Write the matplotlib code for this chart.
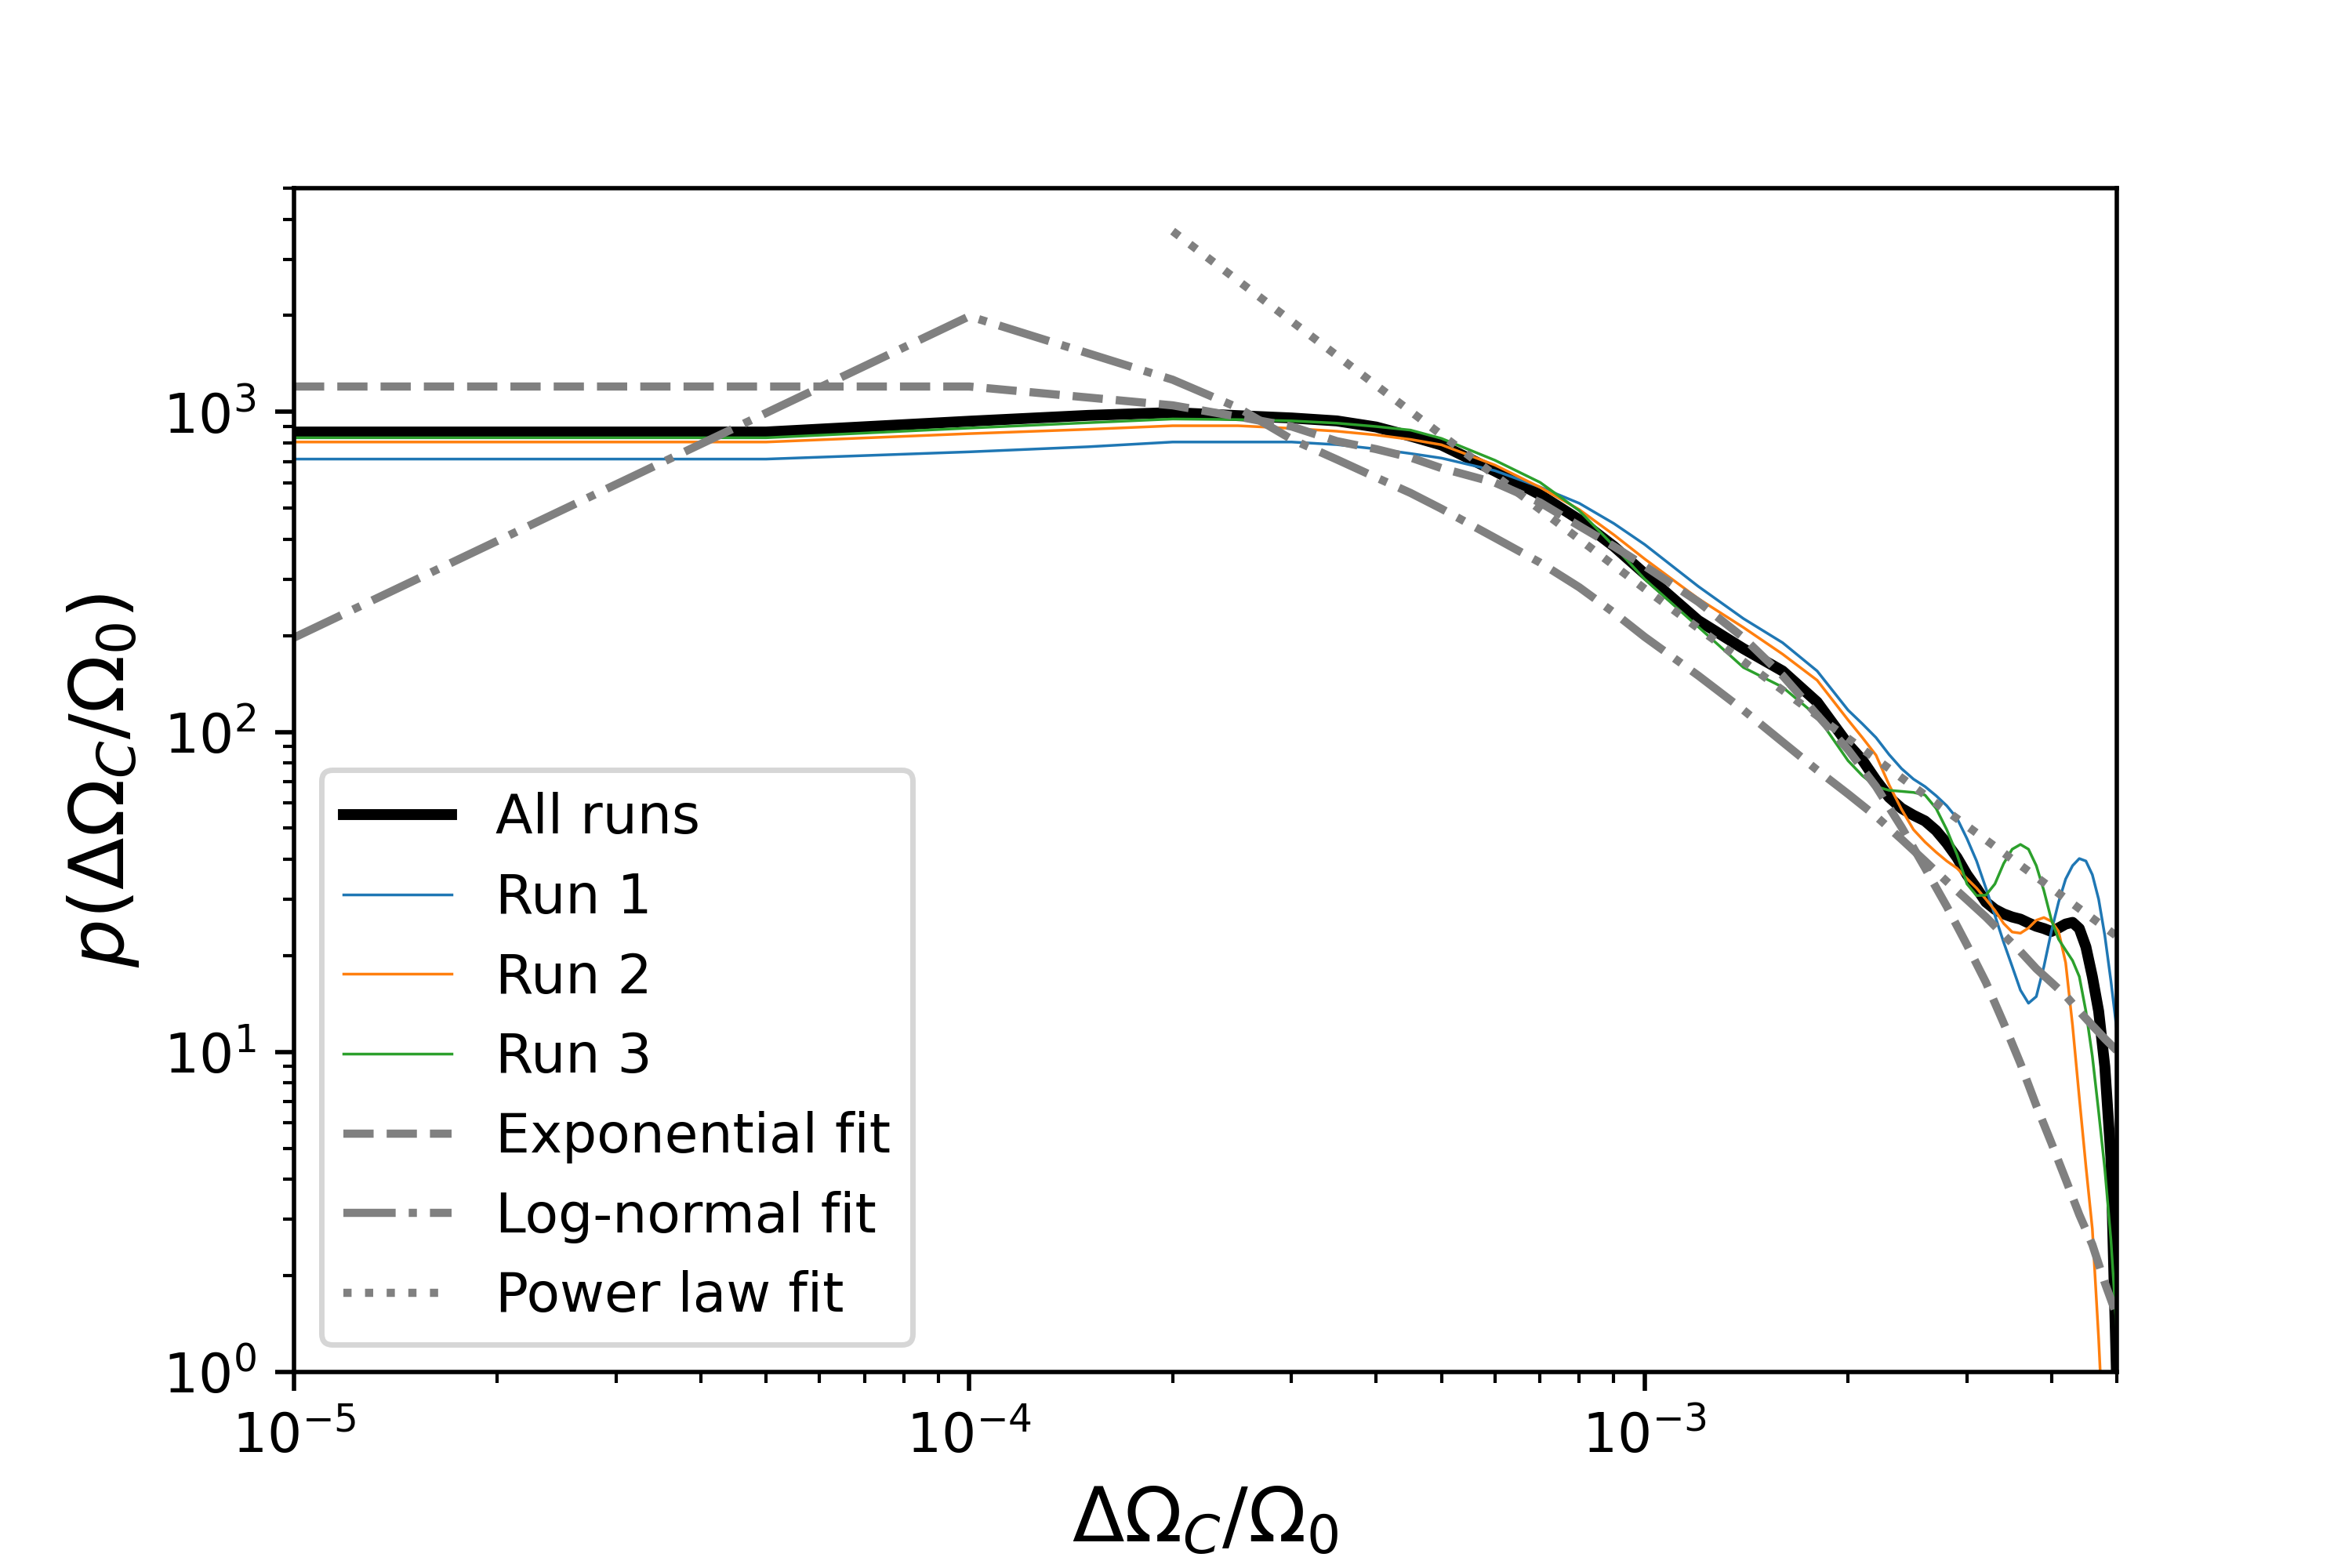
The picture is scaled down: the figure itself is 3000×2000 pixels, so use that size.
import numpy as np
import matplotlib
matplotlib.use('Agg')
import matplotlib.pyplot as plt

# Grid for the measured distributions
x_runs = [1e-5, 5e-5, 1e-4, 1.5e-4, 2e-4, 2.5e-4, 3e-4, 3.5e-4, 4e-4, 4.5e-4,
          5e-4, 6e-4, 7e-4, 8e-4, 9e-4, 1e-3, 1.2e-3, 1.4e-3, 1.6e-3, 1.8e-3,
          2.0e-3, 2.1e-3, 2.2e-3, 2.3e-3, 2.4e-3, 2.5e-3, 2.6e-3, 2.7e-3, 2.8e-3, 2.9e-3,
          3.0e-3, 3.1e-3, 3.2e-3, 3.3e-3, 3.4e-3, 3.5e-3, 3.6e-3, 3.7e-3, 3.8e-3, 3.9e-3,
          4.0e-3, 4.1e-3, 4.2e-3, 4.3e-3, 4.4e-3, 4.5e-3, 4.6e-3, 4.7e-3, 4.8e-3, 4.9e-3,
          5.0e-3]

all_runs = [865, 865, 935, 975, 995, 973, 957, 937, 897, 840,
            788, 653, 551, 460, 380, 312, 223, 182, 155, 124,
            91.5, 81.7, 70.7, 62.5, 57.7, 54.9, 52.7, 49.2, 44.9, 40.5,
            35.8, 32.5, 29.4, 27.9, 27.0, 26.4, 26.0, 25.3, 24.7, 24.3,
            23.8, 24.4, 25.1, 25.4, 24.3, 21.3, 17.2, 13.4, 9.0, 4.7,
            0.9]

run_1 = [712, 712, 750, 778, 805, 805, 805, 790, 766, 741,
         717, 655, 582, 518, 448, 385, 285, 226, 190, 155,
         117, 106, 96, 85, 76.8, 71.2, 67.5, 63.2, 58.8, 53.7,
         46.4, 39.5, 32.5, 26.7, 22.0, 18.5, 15.6, 14.2, 14.9, 18.5,
         23.8, 29.4, 34.7, 38.2, 40.2, 39.5, 35.8, 30.0, 23.1, 16.7,
         11.7]

run_2 = [805, 805, 855, 882, 905, 905, 888, 870, 847, 820,
         789, 682, 581, 495, 413, 347, 261, 212, 175, 145,
         109, 96, 84.6, 68.4, 57.3, 49.5, 45.3, 42.1, 39.5, 37.5,
         34.8, 32.5, 30.0, 27.7, 25.2, 23.7, 23.5, 24.4, 25.8, 26.3,
         25.6, 23.8, 19.0, 12.1, 7.2, 4.4, 2.8, 1.27, 0.5, 0.2,
         0.1]

run_3 = [830, 830, 890, 925, 950, 946, 937, 922, 900, 877,
         826, 706, 602, 491, 381, 300, 213, 159, 138, 112,
         81.3, 73, 67.5, 65.7, 65.2, 64.7, 63.5, 57.7, 49.5, 41.4,
         33.5, 30.8, 30.9, 33.5, 38.8, 43.0, 44.5, 43.0, 38.2, 31.9,
         25.9, 22.5, 20.8, 19.3, 17.2, 13.4, 9.7, 6.5, 4.3, 2.6,
         1.34]

# Grid for the fitted curves
x_fit = [1e-5, 1e-4, 2e-4, 2.5e-4, 3e-4, 3.5e-4, 4e-4, 4.5e-4, 5e-4, 6e-4,
         7e-4, 8e-4, 9e-4, 1e-3, 1.2e-3, 1.4e-3, 1.6e-3, 1.8e-3, 2e-3, 2.2e-3,
         2.4e-3, 2.6e-3, 2.8e-3, 3e-3, 3.2e-3, 3.4e-3, 3.6e-3, 3.8e-3, 4e-3, 4.2e-3,
         4.4e-3, 4.6e-3, 4.8e-3, 5e-3]

exp_fit = [1200, 1200, 1048, 966, 900, 810, 765, 720, 667, 601,
           521, 440, 380, 330, 255, 197, 150, 113, 88, 67.5,
           50.4, 37.6, 28.5, 21.6, 16.5, 12.3, 9.2, 6.8, 5.2, 4.0,
           3.1, 2.5, 1.9, 1.5]

lognorm_fit = [197, 1990, 1260, 1030, 821, 710, 624, 558, 498, 404,
               338, 283, 236, 198, 150, 117, 93, 76, 64, 54.5,
               46.2, 39.5, 34.1, 29.9, 26.4, 23.2, 20.6, 18.2, 16.5, 15.0,
               13.4, 12.1, 11.0, 10.1]

x_pow = [2e-4, 1e-3, 5e-3]
pow_fit = [3670, 280, 23]

fig = plt.figure(figsize=(6, 4), dpi=500)
ax = fig.add_subplot(111)
fig.subplots_adjust(left=0.125, right=0.9, bottom=0.125, top=0.88)

ax.plot(x_runs, all_runs, color='k', lw=2, label='All runs')
ax.plot(x_runs, run_1, color='C0', lw=0.5, label='Run 1')
ax.plot(x_runs, run_2, color='C1', lw=0.5, label='Run 2')
ax.plot(x_runs, run_3, color='C2', lw=0.5, label='Run 3')
ax.plot(x_fit, exp_fit, color='gray', ls='--', lw=1.5, label='Exponential fit')
ax.plot(x_fit, lognorm_fit, color='gray', ls='-.', lw=1.5, label='Log-normal fit')
ax.plot(x_pow, pow_fit, color='gray', ls=':', lw=1.5, label='Power law fit')

ax.set_xscale('log')
ax.set_yscale('log')
ax.set_xlim(1e-5, 5e-3)
ax.set_ylim(1, 5e3)

ax.set_xlabel(r'$\Delta\Omega_C/\Omega_0$', fontsize=14)
ax.set_ylabel(r'$p(\Delta\Omega_C/\Omega_0)$', fontsize=14)
ax.legend(loc='lower left', fontsize=10)

plt.savefig('out.png', dpi=500)
